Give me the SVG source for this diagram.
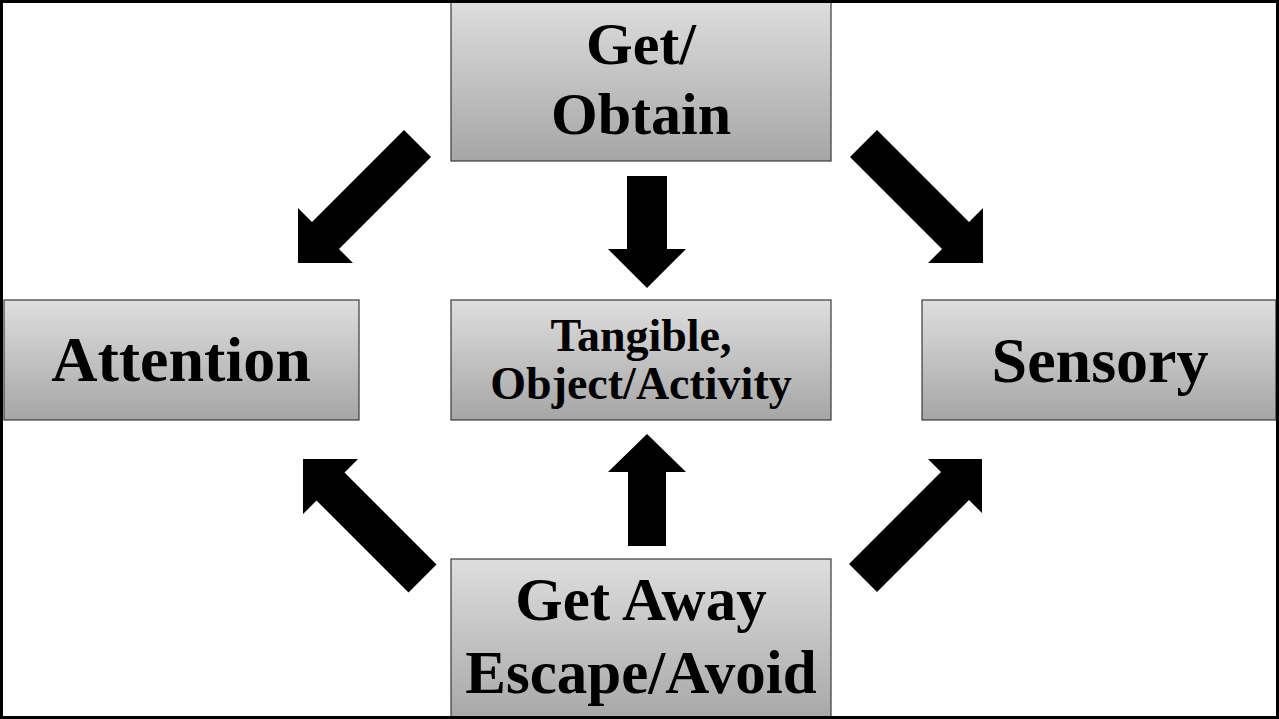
<svg xmlns="http://www.w3.org/2000/svg" width="1279" height="719" viewBox="0 0 1279 719">
<defs>
<linearGradient id="g" x1="0" y1="0" x2="0" y2="1">
<stop offset="0" stop-color="#dedede"/>
<stop offset="1" stop-color="#a6a6a6"/>
</linearGradient>
<style>
.box{fill:url(#g);stroke:#3a3a3a;stroke-width:1.2}
.t{font-family:"Liberation Serif","Times New Roman",serif;font-weight:bold;fill:#000;text-anchor:middle}
.arr{fill:#000}
</style>
</defs>
<rect x="0" y="0" width="1279" height="719" fill="#fff"/>
<g id="get-obtain">
<rect class="box" x="451" y="0" width="380" height="161"/>
<text class="t" x="641" y="64" font-size="60">Get/</text>
<text class="t" x="641" y="134" font-size="60">Obtain</text>
</g>
<g id="attention">
<rect class="box" x="4" y="300" width="355" height="120"/>
<text class="t" x="181" y="381" font-size="64">Attention</text>
</g>
<g id="tangible">
<rect class="box" x="451" y="300" width="380" height="120"/>
<text class="t" x="641" y="351" font-size="46">Tangible,</text>
<text class="t" x="641" y="399" font-size="46">Object/Activity</text>
</g>
<g id="sensory">
<rect class="box" x="922" y="300" width="354" height="120"/>
<text class="t" x="1100" y="382" font-size="64">Sensory</text>
</g>
<g id="get-away">
<rect class="box" x="451" y="559" width="380" height="165"/>
<text class="t" x="641" y="620" font-size="61">Get Away</text>
<text class="t" x="641" y="693" font-size="61">Escape/Avoid</text>
</g>
<g id="connectors">
<polygon class="arr" points="298,263 298,208 312,222 404,130 431,157 339,249 353,263"/>
<polygon class="arr" points="983,263 983,208 969,222 877,130 850,157 942,249 928,263"/>
<polygon class="arr" points="982,459 928,459 941,472 849,564 877,592 969,500 982,513"/>
<polygon class="arr" points="303,459 358,459 344.5,472.5 436.5,564.5 408.5,592.5 316.5,500.5 303,514"/>
<polygon class="arr" points="627,176 667,176 667,249 686,249 647,288 608,249 627,249"/>
<polygon class="arr" points="647,434 686,472 666,472 666,546 628,546 628,472 608,472"/>
</g>
<rect x="1.5" y="1.5" width="1276" height="716" fill="none" stroke="#000" stroke-width="3"/>
</svg>
